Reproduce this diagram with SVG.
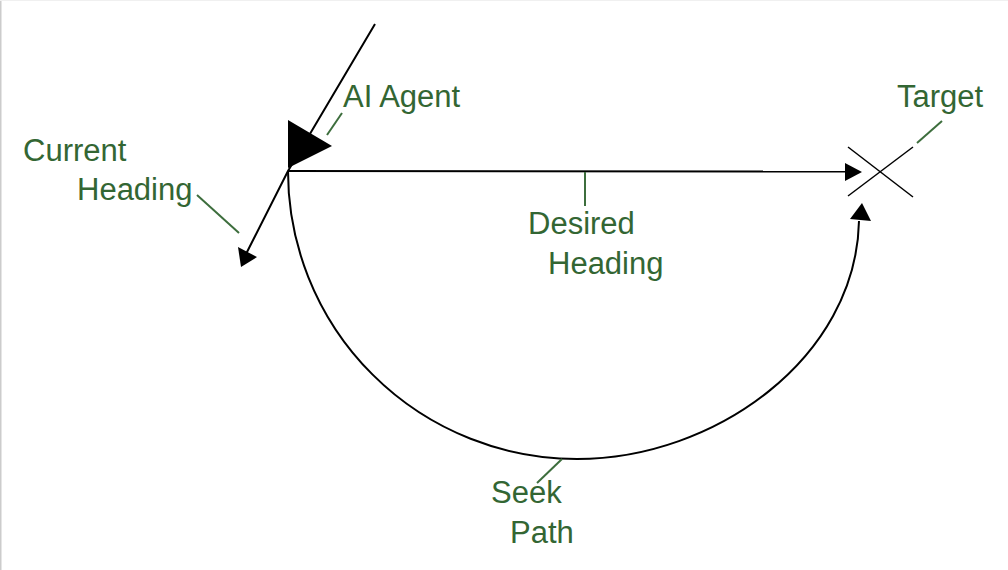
<svg xmlns="http://www.w3.org/2000/svg" width="1008" height="570" viewBox="0 0 1008 570">
  <style>
    .lbl { font-family: "Liberation Sans", Arial, sans-serif; font-size: 31px; fill: #336633; }
    .leader { stroke: #3d6e3d; stroke-width: 2; fill: none; }
    .conn { stroke: #000; stroke-width: 2; fill: none; }
    .head { fill: #000; stroke: none; }
  </style>
  <rect x="0" y="0" width="1008" height="570" fill="#fff"/>
  <line x1="0.75" y1="0" x2="0.75" y2="570" stroke="#cccccc" stroke-width="1.5"/>
  <line x1="0" y1="0.5" x2="1008" y2="0.5" stroke="#f0f0f0" stroke-width="1"/>

  <g id="connectors">
    <!-- current heading line -->
    <path class="conn" d="M375,24 L288,171 L246,254"/>
    <polygon class="head" points="238,247 257,257 241,267"/>
    <!-- desired heading line -->
    <line class="conn" x1="288" y1="171" x2="847" y2="171.5"/>
    <polygon class="head" points="845,163 862,172 845,181"/>
    <!-- seek path -->
    <path class="conn" d="M288,171 A289,288 0 0 0 577,459 C715,459 856,358 859,221"/>
    <polygon class="head" points="862,203 850,219 871,221"/>
  </g>

  <g id="agent">
    <polygon class="head" points="288,120 332,146 288,168"/>
    <text class="lbl" x="343" y="107">AI Agent</text>
    <line class="leader" x1="342" y1="113" x2="327" y2="135"/>
  </g>

  <g id="target">
    <line x1="848" y1="147" x2="913" y2="197" stroke="#000" stroke-width="1.5"/>
    <line x1="848" y1="196" x2="913" y2="147" stroke="#000" stroke-width="1.5"/>
    <text class="lbl" x="897" y="107">Target</text>
    <line class="leader" x1="917" y1="143" x2="942" y2="121"/>
  </g>

  <g id="current-heading">
    <text class="lbl" x="23" y="161">Current</text>
    <text class="lbl" x="77" y="200">Heading</text>
    <line class="leader" x1="197" y1="195" x2="239" y2="233"/>
  </g>

  <g id="desired-heading">
    <line class="leader" x1="585" y1="172" x2="585" y2="206"/>
    <text class="lbl" x="528" y="234">Desired</text>
    <text class="lbl" x="548" y="274">Heading</text>
  </g>

  <g id="seek-path">
    <line class="leader" x1="562" y1="459" x2="537" y2="483"/>
    <text class="lbl" x="491" y="503">Seek</text>
    <text class="lbl" x="510" y="543">Path</text>
  </g>
</svg>
